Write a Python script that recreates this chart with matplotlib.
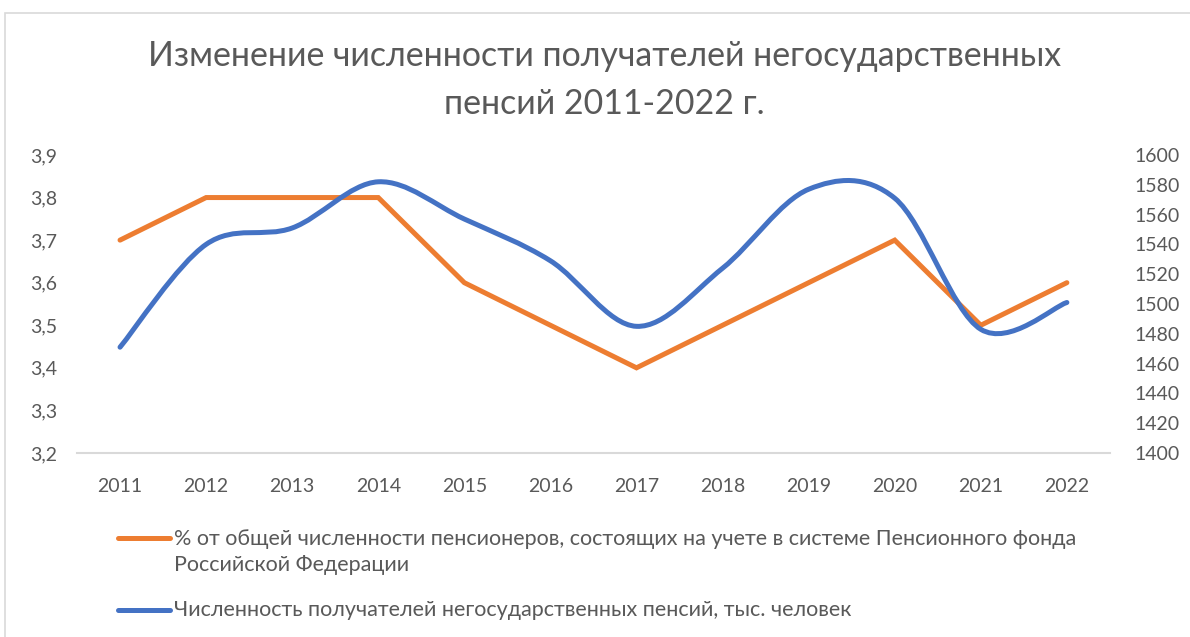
import numpy as np
import matplotlib
matplotlib.use("Agg")
from matplotlib import pyplot as plt
from matplotlib.path import Path
from matplotlib.patches import PathPatch, Rectangle
from matplotlib.lines import Line2D

plt.rcParams['font.family'] = ['Lato', 'DejaVu Sans']

# data
years = ['2011', '2012', '2013', '2014', '2015', '2016',
         '2017', '2018', '2019', '2020', '2021', '2022']
share = [3.7, 3.8, 3.8, 3.8, 3.6, 3.5, 3.4, 3.5, 3.6, 3.7, 3.5, 3.6]
recipients = [1471, 1540, 1551, 1582, 1557, 1529,
              1485, 1524, 1577, 1571, 1483, 1501]

title = "Изменение численности получателей негосударственных\nпенсий 2011-2022 г."
label_share = ("% от общей численности пенсионеров, состоящих на учете в системе Пенсионного фонда\n"
               "Российской Федерации")
label_recip = "Численность получателей негосударственных пенсий, тыс. человек"

ORANGE = '#ED7D31'
BLUE = '#4472C4'
GREY = '#595959'


#Excel-like smoothed line: cubic bezier through the points
def smooth_path(x, y):
    pts = np.column_stack([x, y]).astype(float)
    n = len(pts)
    verts = [pts[0]]
    codes = [Path.MOVETO]
    for i in range(n - 1):
        p0 = pts[max(i - 1, 0)]
        p1 = pts[i]
        p2 = pts[i + 1]
        p3 = pts[min(i + 2, n - 1)]
        c1 = p1 + (p2 - p0) / 6.0
        c2 = p2 - (p3 - p1) / 6.0
        verts += [c1, c2, p2]
        codes += [Path.CURVE4] * 3
    return Path(verts, codes)


fig = plt.figure(figsize=(11.9, 6.37), dpi=100)
ax = fig.add_axes([0.0647, 0.2889, 0.868, 0.4678])
ax2 = ax.twinx()

x = np.arange(len(years))
ax.plot(x, share, color=ORANGE, lw=3.6, solid_capstyle='round', solid_joinstyle='miter', zorder=3)
ax2.add_patch(PathPatch(smooth_path(x, recipients), fill=False, edgecolor=BLUE,
                        lw=3.6, capstyle='round', zorder=4))

ax.set_xlim(-0.5, len(years) - 0.5)
ax.set_ylim(3.2, 3.9)
ax2.set_ylim(1400, 1600)
ax.set_yticks(np.arange(3.2, 3.91, 0.1))
ax.set_yticklabels([f"{v:.1f}".replace('.', ',') for v in np.arange(3.2, 3.91, 0.1)])
ax2.set_yticks(np.arange(1400, 1601, 20))
ax.set_xticks(x)
ax.set_xticklabels(years)

for a in (ax, ax2):
    for s in a.spines.values():
        s.set_visible(False)
    a.tick_params(length=0, colors=GREY, labelsize=14)
ax.spines['bottom'].set_visible(True)
ax.spines['bottom'].set_color('#d9d9d9')
ax.spines['bottom'].set_linewidth(1.5)
ax.tick_params(axis='y', pad=14)
ax.tick_params(axis='x', pad=18)
ax2.tick_params(axis='y', pad=18)

fig.text(0.508, 1 - 80 / 637, title, ha='center', va='center', fontsize=24.4,
         color=GREY, linespacing=1.58)

# legend
fig.add_artist(Line2D([0.099, 0.143], [1 - 538 / 637] * 2, color=ORANGE, lw=3.6,
                      solid_capstyle='round'))
fig.add_artist(Line2D([0.099, 0.143], [1 - 610 / 637] * 2, color=BLUE, lw=3.6,
                      solid_capstyle='round'))
fig.text(0.146, 1 - 552 / 637, label_share, ha='left', va='center', fontsize=15.5,
         color=GREY, linespacing=1.43)
fig.text(0.146, 1 - 610 / 637, label_recip, ha='left', va='center', fontsize=15.5, color=GREY)

# chart border
fig.add_artist(Rectangle((0.0045, -0.05), 1.1, 1.03, transform=fig.transFigure,
                         fill=False, edgecolor='#d9d9d9', lw=1.2))

fig.savefig('out.png', dpi=100)
